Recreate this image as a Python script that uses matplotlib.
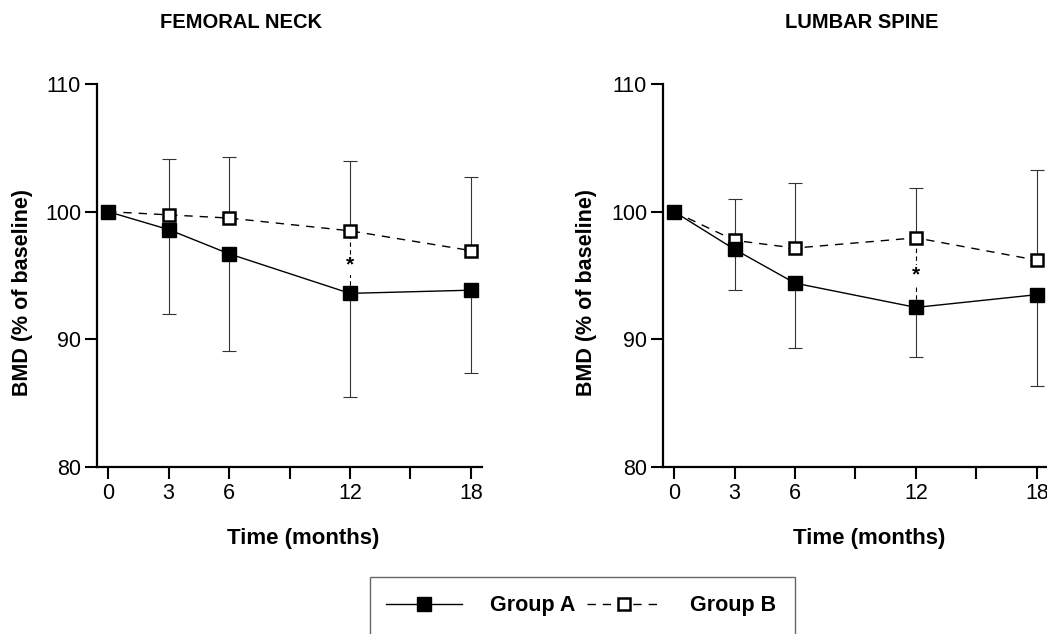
import numpy as np
import matplotlib
matplotlib.use("Agg")
import matplotlib.pyplot as plt
from matplotlib.patches import Rectangle

plt.rcParams["font.family"] = ["Liberation Sans", "DejaVu Sans"]

# ---- data ----
months = [0, 3, 6, 12, 18]

# femoral neck
fn_a = [100, 98.6, 96.7, 93.6, 93.85]
fn_a_err = [0, 6.6, 7.6, 8.1, 6.45]      # drawn downwards
fn_b = [100, 99.75, 99.5, 98.5, 96.95]
fn_b_err = [0, 4.4, 4.8, 5.5, 5.8]       # drawn upwards

# lumbar spine
ls_a = [100, 97.05, 94.4, 92.5, 93.5]
ls_a_err = [0, 3.2, 5.1, 3.85, 7.15]
ls_b = [100, 97.75, 97.15, 97.95, 96.2]
ls_b_err = [0, 3.25, 5.1, 3.9, 7.1]

titles = ["FEMORAL NECK", "LUMBAR SPINE"]
series_labels = ["Group A", "Group B"]
xticks = [0, 3, 6, 9, 12, 15, 18]
xticklabels = ["0", "3", "6", "", "12", "", "18"]
yticks = [80, 90, 100, 110]

W, H = 1047, 634
fig = plt.figure(figsize=(W / 100, H / 100), dpi=100)


def panel(left_px, a, a_err, b, b_err, title, title_x, label_x):
    ax = fig.add_axes([left_px / W, (H - 467) / H, 385 / W, 383 / H])
    x = np.array(months)
    a, b = np.array(a), np.array(b)
    a_err, b_err = np.array(a_err), np.array(b_err)
    z = np.zeros_like(a_err)
    ax.errorbar(x[1:], a[1:], yerr=[a_err[1:], z[1:]], fmt="none", ecolor="#333333",
                elinewidth=0.8, capsize=5, capthick=0.8, zorder=1)
    ax.errorbar(x[1:], b[1:], yerr=[z[1:], b_err[1:]], fmt="none", ecolor="#333333",
                elinewidth=0.8, capsize=5, capthick=0.8, zorder=1)
    la, = ax.plot(x, a, color="black", lw=1.0, marker="s", ms=10.5,
                  mfc="black", mec="black", zorder=4, label=series_labels[0])
    lb, = ax.plot(x, b, color="black", lw=1.0, ls=(0, (6, 5)), marker="s", ms=9,
                  mfc="white", mec="black", mew=1.8, zorder=3, label=series_labels[1])
    # significance marker at 12 months
    i = months.index(12)
    ax.plot([12, 12], [a[i], b[i]], color="black", lw=0.8, ls=(0, (4, 3)), zorder=2)
    ax.text(12, (a[i] + b[i]) / 2 - 0.2, "*", ha="center", va="center", fontsize=15,
            fontweight="bold", bbox=dict(fc="white", ec="none", pad=0.5), zorder=2)

    ax.set_xlim(-0.55, 18.55)
    ax.set_ylim(80, 110)
    ax.set_xticks(xticks)
    ax.set_xticklabels(xticklabels)
    ax.set_yticks(yticks)
    ax.tick_params(direction="out", length=8.5, width=1.5, labelsize=15.5, pad=3)
    for s in ("top", "right"):
        ax.spines[s].set_visible(False)
    for s in ("left", "bottom"):
        ax.spines[s].set_linewidth(1.6)
    ax.set_ylabel("BMD (% of baseline)", fontsize=15.5, fontweight="bold")
    ax.yaxis.set_label_coords((label_x - left_px) / 385, 0.455)
    ax.set_xlabel("Time (months)", fontsize=16, fontweight="bold")
    ax.xaxis.set_label_coords(0.535, -0.16)
    fig.text(title_x / W, 1 - 23 / H, title, ha="center", va="center",
             fontsize=14.5, fontweight="bold")
    return la, lb


la, lb = panel(97, fn_a, fn_a_err, fn_b, fn_b_err, titles[0], 241, 33)
panel(663, ls_a, ls_a_err, ls_b, ls_b_err, titles[1], 862, 597)

# legend (frame runs off the bottom edge of the figure)
fig.patches.append(Rectangle((370 / W, -0.05), (795 - 370) / W, 0.05 + (H - 577) / H,
                             transform=fig.transFigure, fill=False, ec="#666666", lw=1.0))
leg = fig.legend(handles=[la, lb], loc="center left", bbox_to_anchor=(369 / W, 1 - 606 / H),
                 ncol=2, frameon=False, handlelength=3.5, handletextpad=1.3,
                 columnspacing=0.55, borderpad=0.3,
                 prop={"size": 15.5, "weight": "bold"})

fig.savefig("out.png", dpi=100)
